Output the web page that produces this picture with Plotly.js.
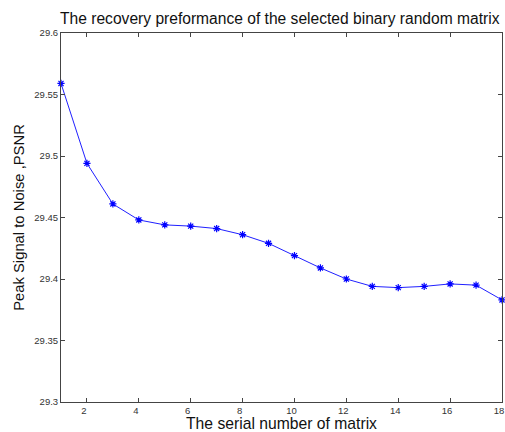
<!DOCTYPE html>
<html>
<head>
<meta charset="utf-8">
<script src="https://cdn.plot.ly/plotly-3.0.1.min.js"></script>
<style>html,body{margin:0;padding:0;background:#fff;}#chart{width:505px;height:432px;}</style>
</head>
<body>
<div id="chart"></div>
<script>
const matrixIndex = [1,2,3,4,5,6,7,8,9,10,11,12,13,14,15,16,17,18];
const psnr = [29.559,29.494,29.461,29.448,29.444,29.443,29.441,29.436,29.429,29.419,29.409,29.400,29.394,29.393,29.394,29.396,29.395,29.383];
const xTicks = [2,4,6,8,10,12,14,16,18];
const yTicks = [29.3,29.35,29.4,29.45,29.5,29.55,29.6];
const yTickLabels = ["29.3","29.35","29.4","29.45","29.5","29.55","29.6"];

const axisCommon = {
  showgrid:false, zeroline:false, showline:true, mirror:'ticks',
  linecolor:'#444', linewidth:1, ticks:'inside', ticklen:4, tickcolor:'#444',
  ticklabeloverflow:'allow',
  tickfont:{family:'Liberation Sans, Arial, sans-serif', size:9.5, color:'#333'}
};

Plotly.newPlot('chart', [{
  x: matrixIndex, y: psnr, type:'scatter', mode:'lines+markers', cliponaxis:false,
  line:{color:'#2020ff', width:1},
  marker:{symbol:'asterisk-open', size:6, color:'#0000ff', line:{color:'#0000ff', width:1.2}}
}], {
  width:505, height:432,
  margin:{l:61, r:3, t:32.5, b:29.7},
  paper_bgcolor:'#fff', plot_bgcolor:'#fff',
  showlegend:false,
  title:{text:'The recovery preformance of the selected binary random matrix',
    font:{family:'Liberation Sans, Arial, sans-serif', size:15.6, color:'#111'},
    x:0.554, xanchor:'center', y:0.958, yanchor:'middle'},
  xaxis:Object.assign({}, axisCommon, {range:[1,18], tickvals:xTicks, ticktext:xTicks.map(String),
    ticklabelshift:-3,
    title:{text:'The serial number of matrix', standoff:2,
      font:{family:'Liberation Sans, Arial, sans-serif', size:15.7, color:'#111'}}}),
  yaxis:Object.assign({}, axisCommon, {range:[29.3,29.6], tickvals:yTicks, ticktext:yTickLabels,
    title:{text:'Peak Signal to Noise ,PSNR', standoff:6,
      font:{family:'Liberation Sans, Arial, sans-serif', size:14.8, color:'#111'}}})
}, {staticPlot:true});
</script>
</body>
</html>
